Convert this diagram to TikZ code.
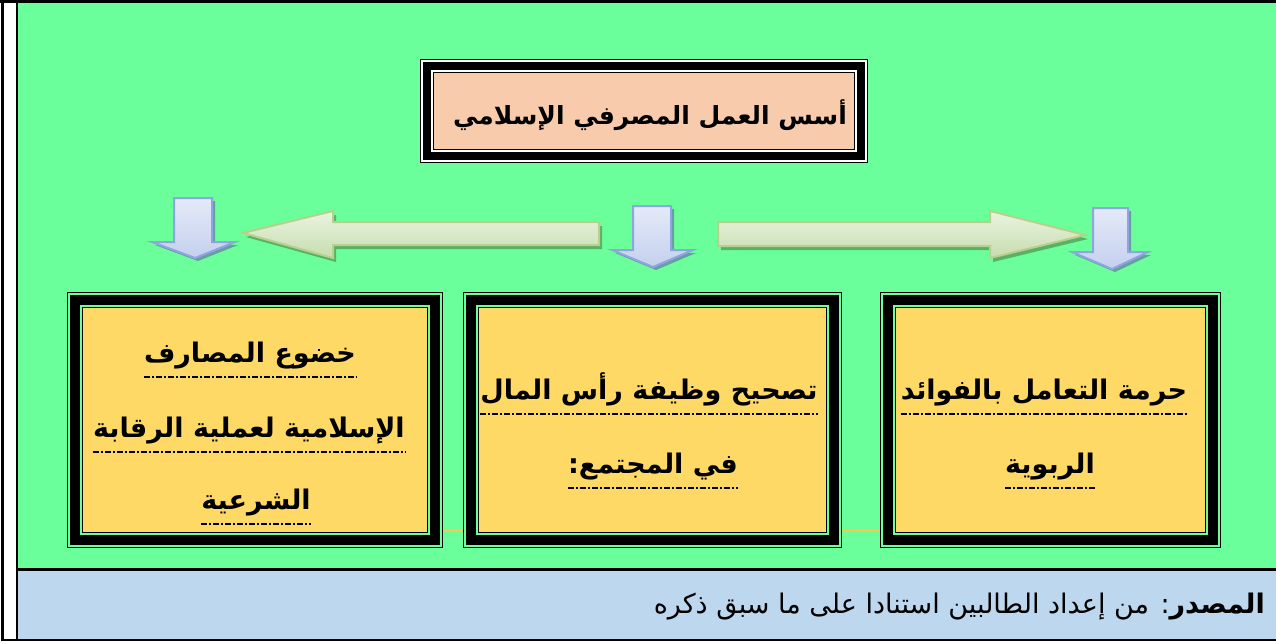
\documentclass[tikz,border=0pt]{standalone}
\usepackage{fontspec}
\newfontfamily\arabicfont[Script=Arabic]{DejaVu Sans}
\TeXXeTstate=1
\definecolor{bggreen}{RGB}{106,255,154}
\definecolor{footblue}{RGB}{189,215,238}
\definecolor{boxyellow}{RGB}{255,217,102}
\definecolor{peach}{RGB}{248,203,173}
\definecolor{garrowline}{RGB}{183,208,140}
\definecolor{garrowtop}{RGB}{234,244,224}
\definecolor{garrowbot}{RGB}{198,220,174}
\definecolor{gshadow}{RGB}{88,178,102}
\definecolor{barrowline}{RGB}{143,164,224}
\definecolor{barrowtop}{RGB}{228,234,248}
\definecolor{barrowbot}{RGB}{196,208,238}
\definecolor{bshadow}{RGB}{100,160,160}
\definecolor{thinorange}{RGB}{255,200,80}
\tikzset{
  outerframe/.style={fill=black, draw=black, double=#1, double distance=1.2pt,
    line width=1.3pt, inner sep=0pt, outer sep=0pt},
  innerframe/.style={draw=black, double=#1, double distance=1.2pt,
    line width=1.3pt, inner sep=0pt, outer sep=0pt},
  boxtext/.style={font=\arabicfont\bfseries\fontsize{27}{31}\selectfont,
    inner sep=0pt, anchor=base},
  titletext/.style={font=\arabicfont\bfseries\fontsize{25}{29}\selectfont,
    inner sep=0pt, anchor=base},
  foottext/.style={font=\arabicfont\fontsize{27}{31}\selectfont,
    inner sep=0pt, anchor=base east},
  uline/.style={line width=2.2pt, dash pattern=on 6pt off 2pt on 2pt off 2pt},
  garrow/.style={draw=garrowline, line width=2pt, top color=garrowtop, bottom color=garrowbot},
  barrow/.style={draw=barrowline, line width=2pt, top color=barrowtop, bottom color=barrowbot},
}
% block arrows
\def\arrowLeft{(243,233) -- (333,211) -- (333,222) -- (599,222) -- (599,245) -- (333,245) -- (333,258) -- cycle}
\def\arrowRight{(718,222) -- (990,222) -- (990,211) -- (1085,235) -- (990,258) -- (990,246) -- (718,246) -- cycle}
\def\downA{(174,198) -- (212,198) -- (212,242) -- (235,242) -- (195,258) -- (152,242) -- (174,242) -- cycle}
\def\downB{(633,206) -- (671,206) -- (671,250) -- (693,250) -- (653,267) -- (612,250) -- (633,250) -- cycle}
\def\downC{(1093,208) -- (1128,208) -- (1128,252) -- (1148,252) -- (1112,269) -- (1072,252) -- (1093,252) -- cycle}
\begin{document}
\begin{tikzpicture}[x=1pt,y=-1pt]
\useasboundingbox (0,0) rectangle (1276,643);
\fill[white] (0,0) rectangle (1276,643);
% table panels
\fill[bggreen] (17.5,3) rectangle (1276,568);
\fill[footblue] (17.5,571) rectangle (1276,638.5);
\fill[black] (0,0) rectangle (1276,3);
\fill[black] (1,0) rectangle (3.5,641);
\fill[black] (15.5,0) rectangle (17.5,641);
\fill[black] (15.5,568) rectangle (1276,571);
\fill[black] (1,638.5) rectangle (1276,641);
% thin rule behind the boxes
\draw[thinorange, line width=1pt] (430,530.5) -- (896,530.5);
% arrows with shadows
\fill[gshadow, xshift=3pt, yshift=-4pt] \arrowLeft;
\fill[gshadow, xshift=3pt, yshift=-4pt] \arrowRight;
\path[garrow] \arrowLeft;
\path[garrow] \arrowRight;
\foreach \p in {\downA,\downB,\downC}{
  \fill[bshadow, xshift=3pt, yshift=-3pt] \p;
  \path[barrow] \p;
}
% title box
\node[outerframe=white, minimum width=444pt, minimum height=100pt] (tf) at (644,111) {};
\node[innerframe=white, fill=peach, minimum width=424pt, minimum height=80pt] (t) at (644,111) {};
\node[titletext] (tt) at (650,124) {\beginR أسس العمل المصرفي الإسلامي\endR};
% bottom boxes
\node[outerframe=bggreen, minimum width=372pt, minimum height=252pt] (lf) at (255,420) {};
\node[innerframe=bggreen, fill=boxyellow, minimum width=348pt, minimum height=228pt] (l) at (255,420) {};
\node[outerframe=bggreen, minimum width=375pt, minimum height=252pt] (mf) at (652.5,420) {};
\node[innerframe=bggreen, fill=boxyellow, minimum width=351pt, minimum height=228pt] (m) at (652.5,420) {};
\node[outerframe=bggreen, minimum width=337pt, minimum height=252pt] (rf) at (1050.5,420) {};
\node[innerframe=bggreen, fill=boxyellow, minimum width=313pt, minimum height=228pt] (r) at (1050.5,420) {};
% left box text
\node[boxtext] (l1) at (250,362) {\beginR خضوع المصارف\endR};
\node[boxtext] (l2) at (249,437) {\beginR الإسلامية لعملية الرقابة\endR};
\node[boxtext] (l3) at (256,509) {\beginR الشرعية\endR};
% middle box text
\node[boxtext] (m1) at (649,399) {\beginR تصحيح وظيفة رأس المال\endR};
\node[boxtext] (m2) at (653,473) {\beginR في المجتمع:\endR};
% right box text
\node[boxtext] (r1) at (1044,399) {\beginR حرمة التعامل بالفوائد\endR};
\node[boxtext] (r2) at (1050,473) {\beginR الربوية\endR};
\foreach \n in {l1,l2,l3,m1,m2,r1,r2}{
  \draw[uline] ([yshift=-15pt]\n.base west) -- ([yshift=-15pt]\n.base east);
}
% source line
\node[foottext] (src) at (1265,613) {\beginR{\bfseries المصدر}: من إعداد الطالبين استنادا على ما سبق ذكره\endR};
\end{tikzpicture}
\end{document}
